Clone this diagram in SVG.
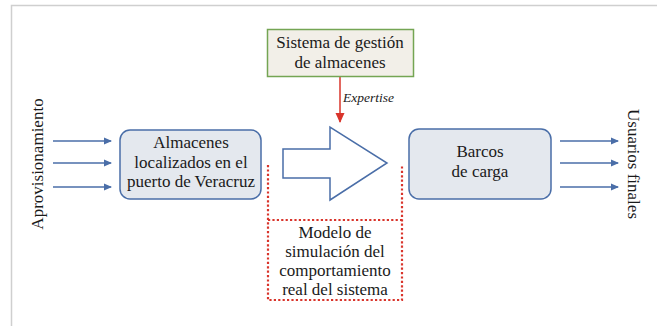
<svg xmlns="http://www.w3.org/2000/svg" width="658" height="326" viewBox="0 0 658 326">
<style>
text{font-family:"Liberation Serif","Times New Roman",serif;fill:#1a1a1a}
.t{font-size:17px;text-anchor:middle}
.box{fill:#e4e8ee;stroke:#4a6ea8;stroke-width:1.5}
.blue{stroke:#4a6ea8;stroke-width:1.5;fill:none}
.dot{stroke:#d9342b;stroke-width:2.2;stroke-dasharray:2.2 2.2;fill:none}
</style>
<defs>
<marker id="ab" markerWidth="8" markerHeight="8" refX="7" refY="4" orient="auto" markerUnits="userSpaceOnUse"><path d="M0,0.5 L8,4 L0,7.5 Z" fill="#4a6ea8"/></marker>
<marker id="ar" markerWidth="10" markerHeight="10" refX="9" refY="5" orient="auto" markerUnits="userSpaceOnUse"><path d="M0,0.5 L10,5 L0,9.5 Z" fill="#d9342b"/></marker>
</defs>
<rect width="658" height="326" fill="#fff"/>
<path d="M11.5,330 V5.5 H657" fill="none" stroke="#cfcfcf" stroke-width="1.5"/>
<g id="connectors">
<line class="blue" x1="53" y1="141" x2="111" y2="141" marker-end="url(#ab)"/>
<line class="blue" x1="53" y1="163" x2="111" y2="163" marker-end="url(#ab)"/>
<line class="blue" x1="53" y1="187" x2="111" y2="187" marker-end="url(#ab)"/>
<line class="blue" x1="560" y1="141" x2="618" y2="141" marker-end="url(#ab)"/>
<line class="blue" x1="560" y1="163" x2="618" y2="163" marker-end="url(#ab)"/>
<line class="blue" x1="560" y1="187" x2="618" y2="187" marker-end="url(#ab)"/>
<line x1="340" y1="77" x2="340" y2="122" stroke="#d9342b" stroke-width="1.5" marker-end="url(#ar)"/>
<text x="343" y="102" font-size="13.5" font-style="italic">Expertise</text>
</g>
<g id="aprovisionamiento">
<text class="t" transform="translate(43,164) rotate(-90)">Aprovisionamiento</text>
</g>
<g id="usuarios">
<text class="t" transform="translate(628,164) rotate(90)">Usuarios finales</text>
</g>
<g id="sistema">
<rect x="267.5" y="29.5" width="146" height="47" fill="#f2efe8" stroke="#74a553" stroke-width="1.5"/>
<text class="t" x="340" y="48">Sistema de gestión</text>
<text class="t" x="340" y="68">de almacenes</text>
</g>
<g id="almacenes">
<rect class="box" x="120" y="130" width="141" height="69" rx="10"/>
<text class="t" x="191" y="148">Almacenes</text>
<text class="t" x="191" y="168">localizados en el</text>
<text class="t" x="191" y="187">puerto de Veracruz</text>
</g>
<g id="flecha">
<path class="blue" d="M283,149 H330 V127 L387,163 L330,200 V178 H283 Z" fill="#fff"/>
</g>
<g id="modelo">
<path class="dot" d="M268,165 V300 H402 V165 M268,220 H402"/>
<text class="t" x="335" y="238">Modelo de</text>
<text class="t" x="335" y="257">simulación del</text>
<text class="t" x="335" y="276">comportamiento</text>
<text class="t" x="335" y="295">real del sistema</text>
</g>
<g id="barcos">
<rect class="box" x="409" y="129" width="142" height="70" rx="10"/>
<text class="t" x="480" y="157">Barcos</text>
<text class="t" x="480" y="177">de carga</text>
</g>
</svg>
